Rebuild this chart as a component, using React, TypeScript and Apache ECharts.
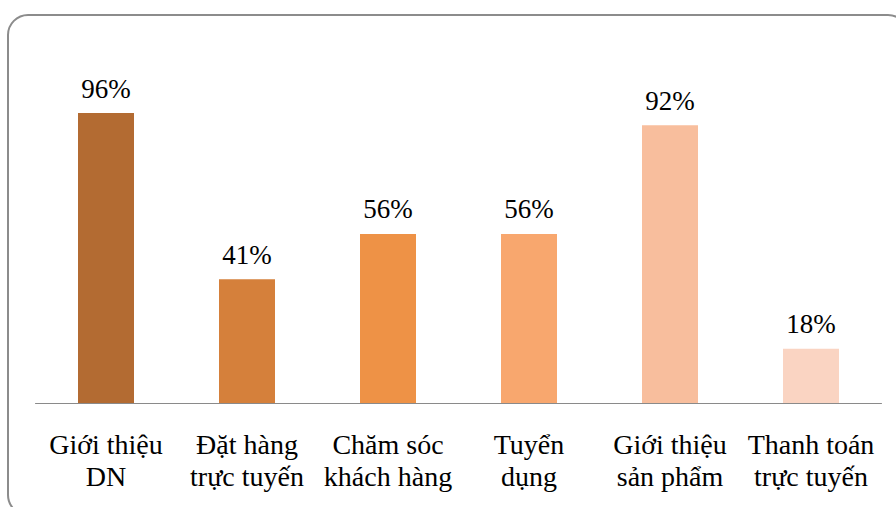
import React, { useEffect, useRef } from "react";
import * as echarts from "echarts";

const categories = [
  "Giới thiệu\nDN",
  "Đặt hàng\ntrực tuyến",
  "Chăm sóc\nkhách hàng",
  "Tuyển\ndụng",
  "Giới thiệu\nsản phẩm",
  "Thanh toán\ntrực tuyến",
];
const values = [96, 41, 56, 56, 92, 18];
const barColors = ["#B36B32", "#D5803B", "#EE9246", "#F8A76E", "#F8BE9D", "#FAD4C2"];

const FONT = "Liberation Serif, Times New Roman, serif";

export default function App() {
  const ref = useRef<HTMLDivElement>(null);

  useEffect(() => {
    document.body.style.margin = "0";
    if (!ref.current) return;
    const chart = echarts.init(ref.current, null, { renderer: "svg" });
    chart.setOption({
      animation: false,
      backgroundColor: "#ffffff",
      textStyle: { fontFamily: FONT },
      graphic: [
        {
          type: "rect",
          shape: { x: 8, y: 15, width: 900, height: 500, r: 20 },
          style: { fill: "none", stroke: "#8c8c8c", lineWidth: 2 },
          silent: true,
        },
      ],
      grid: { left: 35.5, right: 14.5, top: 101, bottom: 104, containLabel: false },
      xAxis: {
        type: "category",
        data: categories,
        axisLine: { show: true, lineStyle: { color: "#8a8a8a", width: 1 } },
        axisTick: { show: false },
        axisLabel: {
          interval: 0,
          margin: 25,
          color: "#000000",
          fontFamily: FONT,
          fontSize: 28,
          lineHeight: 32,
        },
      },
      yAxis: {
        type: "value",
        min: 0,
        max: 100,
        show: false,
        splitLine: { show: false },
      },
      series: [
        {
          type: "bar",
          data: values.map((v, i) => ({ value: v, itemStyle: { color: barColors[i] } })),
          barWidth: 56,
          label: {
            show: true,
            position: "top",
            distance: 11,
            formatter: "{c}%",
            color: "#000000",
            fontFamily: FONT,
            fontSize: 27,
          },
        },
      ],
    });
    return () => chart.dispose();
  }, []);

  return <div ref={ref} style={{ width: 896, height: 507 }} />;
}
